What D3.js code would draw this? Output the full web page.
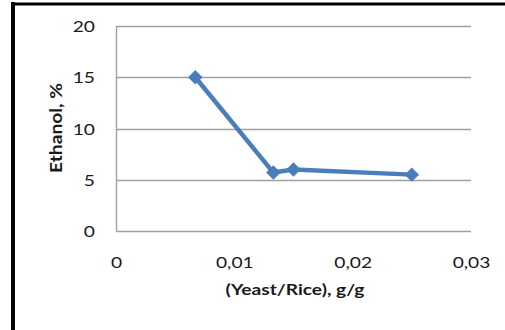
<!DOCTYPE html>
<html><head><meta charset="utf-8">
<script src="https://cdn.jsdelivr.net/npm/d3@7"></script>
<style>body{margin:0;background:#fff}svg{display:block}text{font-family:Lato,"Open Sans",sans-serif}</style>
</head><body>
<svg id="c" width="505" height="330"></svg>
<script>
const xValues = [0.0067, 0.0133, 0.015, 0.025];
const yValues = [15, 5.7, 6.0, 5.5];
const xTicks = [0, 0.01, 0.02, 0.03];
const yTicks = [0, 5, 10, 15, 20];
const xTitle = "(Yeast/Rice), g/g";
const yTitle = "Ethanol, %";

const svg = d3.select("#c");
const x = d3.scaleLinear().domain([0, 0.03]).range([116, 471]);
const y = d3.scaleLinear().domain([0, 20]).range([231, 26]);
const fmt = d => d === 0 ? "0" : d3.format(".2f")(d).replace(".", ",");
const SX = 1.2;

// outer frame (left and top)
svg.append("line").attr("x1",13).attr("x2",13).attr("y1",2).attr("y2",330).attr("stroke","#000").attr("stroke-width",4);
svg.append("line").attr("x1",11).attr("x2",505).attr("y1",4).attr("y2",4).attr("stroke","#000").attr("stroke-width",3);

// gridlines
svg.append("g").selectAll("line").data(yTicks).join("line")
  .attr("x1", x(0)).attr("x2", x(0.03))
  .attr("y1", d => Math.round(y(d))+0.5).attr("y2", d => Math.round(y(d))+0.5)
  .attr("stroke", "#a0a0a0").attr("stroke-width", 1.4);
svg.append("line").attr("x1", x(0)+0.5).attr("x2", x(0)+0.5).attr("y1", y(20)).attr("y2", y(0))
  .attr("stroke", "#a0a0a0").attr("stroke-width", 1.4);

// y axis labels
const ya = d3.axisLeft(y).tickValues(yTicks).tickSize(0).tickPadding(0).tickFormat(d3.format("d"));
const gy = svg.append("g").attr("transform", `translate(${x(0)},0)`).call(ya);
gy.select(".domain").remove();
gy.selectAll("text").attr("x", null).attr("dy", null).attr("y", 5.5)
  .attr("transform", `translate(-21,0) scale(${SX},1)`)
  .attr("font-size", 16).attr("fill", "#1a1a1a").style("font-family","Lato");

// x axis labels
const xa = d3.axisBottom(x).tickValues(xTicks).tickSize(0).tickPadding(0).tickFormat(fmt);
const gx = svg.append("g").attr("transform", `translate(0,${y(0)})`).call(xa);
gx.select(".domain").remove();
gx.selectAll("text").attr("dy", null).attr("y", 37)
  .attr("transform", `scale(${SX},1)`)
  .attr("font-size", 16).attr("fill", "#1a1a1a").style("font-family","Lato");

// titles
svg.append("text").attr("transform", `translate(295,295) scale(${SX},1)`).attr("text-anchor","middle")
  .attr("font-size", 16).attr("font-weight","bold").attr("fill","#1a1a1a").text(xTitle);
svg.append("text").attr("transform", `translate(62,128) rotate(-90) scale(${SX},1.1)`).attr("text-anchor","middle")
  .attr("font-size", 16).attr("font-weight","bold").attr("fill","#1a1a1a").text(yTitle);

// line
const pts = xValues.map((v,i) => [v, yValues[i]]);
svg.append("path").datum(pts)
  .attr("d", d3.line().x(d => x(d[0])).y(d => y(d[1])))
  .attr("fill","none").attr("stroke","#4a7ebb").attr("stroke-width",4.5).attr("stroke-linejoin","round");
svg.append("g").selectAll("path").data(pts).join("path")
  .attr("d", d3.symbol(d3.symbolSquare, 105))
  .attr("transform", d => `translate(${x(d[0])},${y(d[1])}) rotate(45)`)
  .attr("fill","#4a7ebb");
</script>
</body></html>
